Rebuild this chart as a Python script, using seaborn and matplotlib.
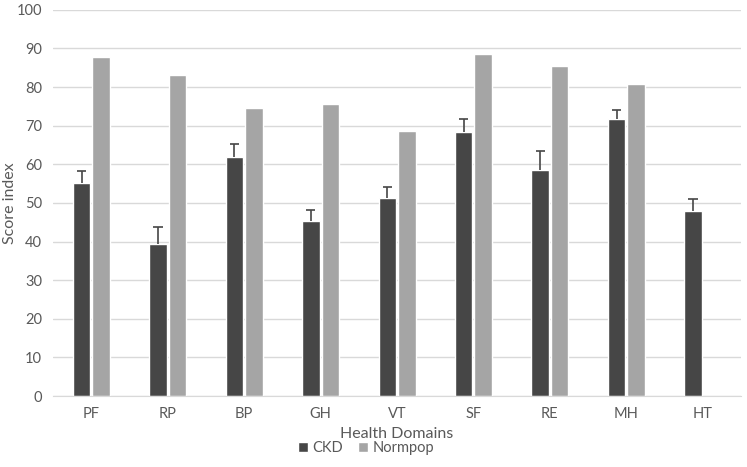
import matplotlib
matplotlib.use("Agg")
import matplotlib.pyplot as plt
import seaborn as sns
import pandas as pd
import numpy as np

# values
domains = ["PF", "RP", "BP", "GH", "VT", "SF", "RE", "MH", "HT"]
ckd = [55.2, 39.4, 61.9, 45.3, 51.3, 68.4, 58.5, 71.8, 47.9]
ckd_err = [3.1, 4.4, 3.4, 2.9, 2.8, 3.4, 5.0, 2.3, 3.1]
normpop = [87.8, 83.0, 74.7, 75.6, 68.7, 88.5, 85.5, 80.8, np.nan]

df = pd.DataFrame({
    "domain": domains * 2,
    "group": ["CKD"] * len(domains) + ["Normpop"] * len(domains),
    "score": ckd + normpop,
})

sns.set_style("white")
plt.rcParams["font.family"] = ["Lato", "DejaVu Sans"]
text_col = "#595959"
dark = "#464646"

fig = plt.figure(figsize=(7.47, 4.67), dpi=100)
ax = fig.add_axes([0.071, 0.152, 0.921, 0.827])

sns.barplot(data=df, x="domain", y="score", hue="group", order=domains,
            palette={"CKD": dark, "Normpop": "#a5a5a5"},
            width=0.51, gap=0.1, errorbar=None, ax=ax, legend=True)

# upper-only error bars on the CKD bars (stem + top cap)
xs = np.array([b.get_x() + b.get_width() / 2 for b in ax.containers[0]])
tops = np.array(ckd) + np.array(ckd_err)
ax.vlines(xs, ckd, tops, color=dark, linewidth=1.2)
ax.hlines(tops, xs - 0.06, xs + 0.06, color=dark, linewidth=1.2)

ax.set_ylim(0, 100)
ax.set_yticks(range(0, 101, 10))
ax.set_xlim(-0.5, len(domains) - 0.5)
ax.yaxis.grid(True, color="#d9d9d9", linewidth=1)
ax.set_axisbelow(True)
for s in ["top", "right", "left"]:
    ax.spines[s].set_visible(False)
ax.spines["bottom"].set_color("#d9d9d9")
ax.tick_params(length=0, labelsize=10.5, labelcolor=text_col, pad=8)

ax.set_xlabel("Health Domains", fontsize=11.5, color=text_col, labelpad=4)
ax.set_ylabel("Score index", fontsize=11.5, color=text_col)
ax.yaxis.set_label_coords(-0.053, 0.5)

ax.get_legend().remove()
handles, labels = ax.get_legend_handles_labels()
fig.legend(handles, labels, loc="center", bbox_to_anchor=(0.49, 0.04),
           ncol=2, frameon=False, fontsize=10.5, labelcolor=text_col,
           handlelength=0.7, handleheight=0.7, handletextpad=0.3,
           columnspacing=1.0)

fig.savefig("out.png", dpi=100)
